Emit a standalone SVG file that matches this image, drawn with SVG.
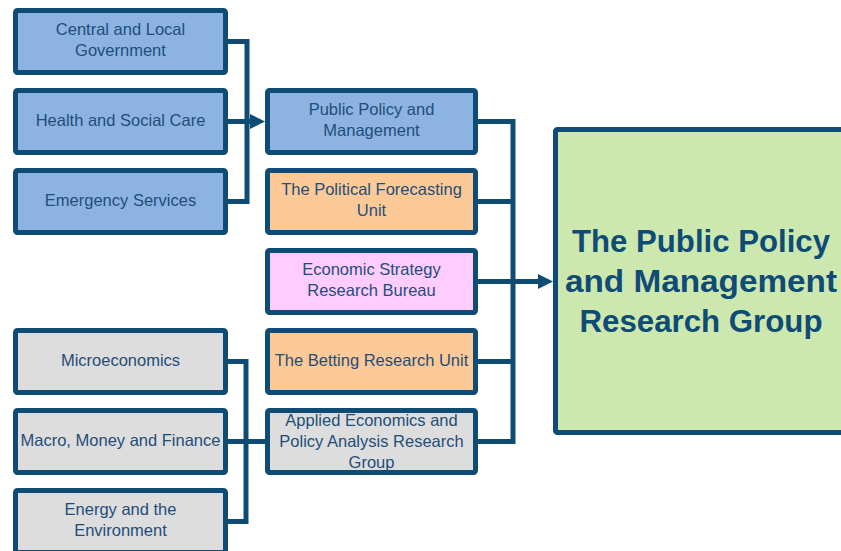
<svg xmlns="http://www.w3.org/2000/svg" width="841" height="551" viewBox="0 0 841 551">
<style>
.box{stroke:#0F4C75;stroke-width:5}
.blue{fill:#8DB3E2}
.orange{fill:#FDC996}
.pink{fill:#FFCCFF}
.grey{fill:#DDDDDD}
.green{fill:#CDE8AF}
.t{font-family:"Liberation Sans",Arial,sans-serif;font-size:16.5px;fill:#1F4E79;text-anchor:middle}
.big{font-family:"Liberation Sans",Arial,sans-serif;font-size:31px;font-weight:bold;fill:#0F4C75;text-anchor:middle}
.conn{fill:none;stroke:#0F4C75;stroke-width:5}
</style>
<defs>
<marker id="arr" markerUnits="userSpaceOnUse" markerWidth="16" markerHeight="16" refX="0" refY="7.5" orient="auto">
<path d="M0,0 L15,7.5 L0,15 z" fill="#0F4C75"/>
</marker>
</defs>
<rect width="841" height="551" fill="#FFFFFF"/>
<g id="connectors">
<path class="conn" d="M228 41.5 H247 V201.5 H228"/>
<path class="conn" d="M228 121.5 H250" marker-end="url(#arr)"/>
<path class="conn" d="M478 121.5 H513 V441.5 H478"/>
<path class="conn" d="M478 201.5 H513"/>
<path class="conn" d="M478 361.5 H513"/>
<path class="conn" d="M478 281.5 H538" marker-end="url(#arr)"/>
<path class="conn" d="M228 361.5 H246 V521.5 H228"/>
<path class="conn" d="M228 441.5 H265"/>
</g>
<g id="central">
<rect class="box blue" x="15.5" y="10.5" width="210" height="62" rx="2"/>
<text class="t" x="120.5" y="35">Central and Local</text>
<text class="t" x="120.5" y="56">Government</text>
</g>
<g id="health">
<rect class="box blue" x="15.5" y="90.5" width="210" height="62" rx="2"/>
<text class="t" x="120.5" y="126">Health and Social Care</text>
</g>
<g id="emergency">
<rect class="box blue" x="15.5" y="170.5" width="210" height="62" rx="2"/>
<text class="t" x="120.5" y="206">Emergency Services</text>
</g>
<g id="micro">
<rect class="box grey" x="15.5" y="330.5" width="210" height="62" rx="2"/>
<text class="t" x="120.5" y="366">Microeconomics</text>
</g>
<g id="macro">
<rect class="box grey" x="15.5" y="410.5" width="210" height="62" rx="2"/>
<text class="t" x="120.5" y="446">Macro, Money and Finance</text>
</g>
<g id="energy">
<rect class="box grey" x="15.5" y="490.5" width="210" height="62" rx="2"/>
<text class="t" x="120.5" y="515">Energy and the</text>
<text class="t" x="120.5" y="536">Environment</text>
</g>
<g id="ppm">
<rect class="box blue" x="267.5" y="90.5" width="208" height="62" rx="2"/>
<text class="t" x="371.5" y="115">Public Policy and</text>
<text class="t" x="371.5" y="136">Management</text>
</g>
<g id="pfu">
<rect class="box orange" x="267.5" y="170.5" width="208" height="62" rx="2"/>
<text class="t" x="371.5" y="195">The Political Forecasting</text>
<text class="t" x="371.5" y="216">Unit</text>
</g>
<g id="esrb">
<rect class="box pink" x="267.5" y="250.5" width="208" height="62" rx="2"/>
<text class="t" x="371.5" y="275">Economic Strategy</text>
<text class="t" x="371.5" y="296">Research Bureau</text>
</g>
<g id="bru">
<rect class="box orange" x="267.5" y="330.5" width="208" height="62" rx="2"/>
<text class="t" x="371.5" y="366">The Betting Research Unit</text>
</g>
<g id="aepa">
<rect class="box grey" x="267.5" y="410.5" width="208" height="62" rx="2"/>
<text class="t" x="371.5" y="426">Applied Economics and</text>
<text class="t" x="371.5" y="447">Policy Analysis Research</text>
<text class="t" x="371.5" y="468">Group</text>
</g>
<g id="ppmrg">
<rect class="box green" x="555.5" y="129.5" width="292" height="303" rx="2"/>
<text class="big" x="701" y="252" textLength="258" lengthAdjust="spacingAndGlyphs">The Public Policy</text>
<text class="big" x="701" y="292" textLength="272" lengthAdjust="spacingAndGlyphs">and Management</text>
<text class="big" x="701" y="332" textLength="243" lengthAdjust="spacingAndGlyphs">Research Group</text>
</g>
</svg>
